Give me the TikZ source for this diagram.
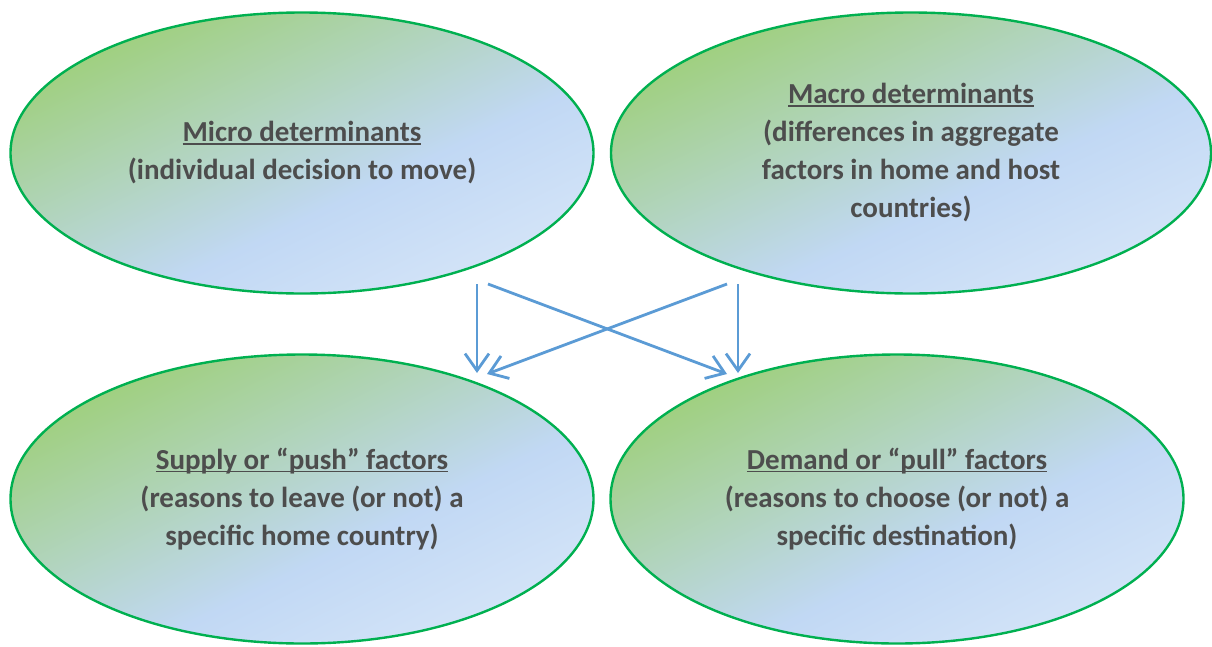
\documentclass[tikz,border=0pt]{standalone}
\usepackage{fontspec}
\setmainfont{Carlito}
\usetikzlibrary{shapes.geometric,arrows.meta}
\definecolor{gA}{RGB}{158,207,122}
\definecolor{bB}{RGB}{193,216,244}
\definecolor{bC}{RGB}{221,234,250}
\definecolor{edge}{RGB}{0,176,80}
\definecolor{arrowc}{RGB}{91,155,213}
\definecolor{txt}{RGB}{77,77,77}
\pgfdeclarehorizontalshading{ellgrad}{100bp}{color(0bp)=(gA); color(31bp)=(gA); color(56bp)=(bB); color(75bp)=(bC); color(100bp)=(bC)}
\newcommand\myul[1]{\setbox0\hbox{#1}\rlap{\rule[-3pt]{\wd0}{1.8pt}}\box0}
% gradient fill of an ellipse: centre x, centre y, width, height
\newcommand\ellshade[4]{%
  \begin{scope}
    \clip (#1,#2) ellipse [x radius={#3/2}, y radius={#4/2}];
    \begin{scope}[transform canvas={shift={(#1,#2)}, xscale={#3/#4}, rotate=-45}]
      \shade[shading=ellgrad] ({-0.7072*#4},{-0.7072*#4}) rectangle ({0.7072*#4},{0.7072*#4});
    \end{scope}
  \end{scope}}
\tikzset{
  bubble/.style 2 args={ellipse, draw=edge, line width=2.4pt,
    minimum width=#1pt, minimum height=#2pt,
    inner sep=0pt, text=txt, align=center,
    font=\fontsize{29}{38}\selectfont\bfseries},
  link/.style={draw=arrowc, line width=2.8pt, -{Straight Barb[length=17pt,width=24pt,line width=2.8pt]}}
}
\begin{document}
\begin{tikzpicture}[x=1pt,y=-1pt]
\useasboundingbox (0,0) rectangle (1212,646);
\ellshade{302}{153}{583}{281}
\ellshade{911}{153}{600}{281}
\ellshade{302}{499}{583}{289}
\ellshade{897}{499}{573}{289}
\node[bubble={583}{281}] (micro) at (302,153)
  {\myul{Micro determinants}\\(individual decision to move)};
\node[bubble={600}{281}] (macro) at (911,153)
  {\myul{Macro determinants}\\(differences in aggregate\\factors in home and host\\countries)};
\node[bubble={583}{289}] (push) at (302,499)
  {\myul{Supply or “push” factors}\\(reasons to leave (or not) a\\specific home country)};
\node[bubble={573}{289}] (pull) at (897,499)
  {\myul{Demand or “pull” factors}\\(reasons to choose (or not) a\\specific destination)};
\coordinate (s1) at (477,284);
\coordinate (e1) at (477,373);
\coordinate (s2) at (488,284);
\coordinate (e2) at (727,374);
\coordinate (s3) at (727,284);
\coordinate (e3) at (487,374);
\coordinate (s4) at (738,284);
\coordinate (e4) at (738,373);
\draw[link] (s1) -- (e1);
\draw[link] (s2) -- (e2);
\draw[link] (s3) -- (e3);
\draw[link] (s4) -- (e4);
\end{tikzpicture}
\end{document}
